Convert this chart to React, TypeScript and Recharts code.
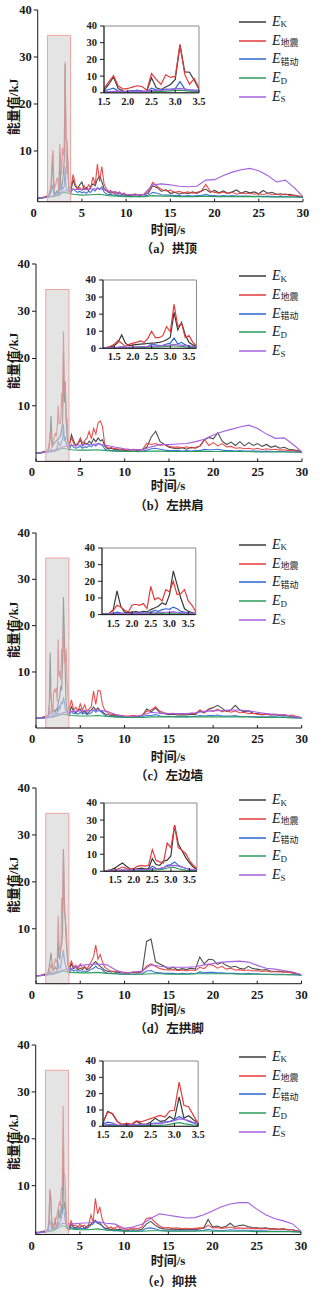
import React from "react";
import { LineChart, Line, XAxis, YAxis, ReferenceArea } from "recharts";

// shared time grids (s)
const TIME_MAIN = [0, 0.5, 1, 4, 4.25, 4.5, 4.75, 5, 5.25, 5.5, 5.75, 6, 6.25, 6.5, 6.75, 7, 7.25, 7.5, 7.75, 8, 8.25, 8.5, 8.75, 9, 9.25, 9.5, 9.75, 10, 10.5, 11, 11.5, 12, 12.5, 13, 13.5, 14, 14.5, 15, 15.5, 16, 16.5, 17, 17.5, 18, 18.5, 19, 19.5, 20, 20.5, 21, 21.5, 22, 22.5, 23, 23.5, 24, 24.5, 25, 25.5, 26, 26.5, 27, 27.5, 28, 28.5, 29, 29.5, 30];
const TIME_INSET = [1.2, 1.3, 1.4, 1.5, 1.6, 1.7, 1.8, 1.9, 2.0, 2.1, 2.2, 2.3, 2.4, 2.5, 2.6, 2.7, 2.8, 2.9, 3.0, 3.1, 3.2, 3.3, 3.4, 3.5, 3.6, 3.7];
const TIME_SMOOTH = [0, 1, 2, 3, 4, 5, 6, 7, 8, 9, 10, 11, 12, 13, 14, 15, 16, 17, 18, 19, 20, 21, 22, 23, 24, 25, 26, 27, 28, 29, 30];

const X_TICKS = [0, 5, 10, 15, 20, 25, 30];
const Y_TICKS = [10, 20, 30, 40];
const INSET_X_TICKS = [1.5, 2.0, 2.5, 3.0, 3.5];
const INSET_Y_TICKS = [0, 10, 20, 30, 40];
const SHADE_X = [1.1, 3.72];
const SHADE_TOP = 34.6;

// (a) 拱顶
const A_EK = [0, 0, 0.2, 3.8, 2.5, 2.0, 2.8, 3.4, 1.8, 2.2, 1.6, 2.4, 3.0, 2.6, 4.0, 4.6, 3.5, 2.0, 1.6, 1.2, 1.0, 1.3, 0.9, 0.8, 1.1, 0.7, 0.9, 0.6, 0.5, 0.8, 0.6, 0.7, 1.0, 2.6, 2.2, 1.4, 1.8, 1.0, 1.2, 0.8, 1.1, 0.9, 1.3, 1.0, 1.5, 1.9, 1.2, 1.6, 1.1, 1.5, 1.0, 1.3, 1.7, 1.0, 1.4, 1.1, 1.3, 0.9, 1.6, 1.0, 1.2, 0.8, 0.9, 0.7, 0.8, 0.5, 0.4, 0.2];
const A_EQ = [0, 0.1, 0.4, 5.0, 3.0, 1.8, 2.2, 1.6, 2.6, 1.8, 2.8, 2.2, 4.5, 2.8, 7.2, 3.5, 6.7, 3.0, 2.0, 1.4, 1.6, 1.0, 1.4, 1.1, 1.3, 0.8, 1.1, 0.7, 0.6, 0.9, 0.5, 0.8, 1.4, 3.3, 2.5, 1.8, 1.5, 1.7, 1.2, 1.4, 1.1, 1.3, 1.0, 1.2, 1.4, 2.9, 1.5, 1.2, 1.0, 1.3, 0.9, 1.2, 0.8, 1.1, 0.9, 1.0, 0.8, 0.9, 0.7, 1.0, 0.7, 0.8, 0.6, 0.9, 0.5, 0.6, 0.4, 0.2];
const A_EC = [0, 0, 0.2, 2.0, 1.5, 1.2, 1.4, 1.1, 1.3, 1.0, 1.4, 1.2, 1.8, 1.5, 2.2, 1.8, 2.4, 1.3, 0.9, 0.7, 0.8, 0.6, 0.7, 0.5, 0.6, 0.4, 0.5, 0.4, 0.3, 0.4, 0.3, 0.4, 0.6, 1.2, 1.0, 0.7, 0.6, 0.6, 0.5, 0.5, 0.4, 0.5, 0.4, 0.5, 0.5, 0.8, 0.5, 0.5, 0.4, 0.5, 0.4, 0.5, 0.4, 0.4, 0.4, 0.4, 0.3, 0.4, 0.3, 0.4, 0.3, 0.3, 0.3, 0.3, 0.2, 0.2, 0.2, 0.1];
const A_ED = [0, 0.1, 0.4, 1.2, 0.8, 0.6, 0.7, 0.8, 0.5, 0.4, 0.3, 0.3, 0.3, 0.5, 0.4, 0.4, 0.3, 0.3, 0.3, 0.4, 0.3, 0.3, 0.3, 0.3, 0.3, 0.3, 0.2, 0.2, 0.2, 0.2, 0.1];
const A_ES = [0, 0.1, 0.6, 1.5, 1.8, 1.8, 1.9, 2.0, 1.5, 1.1, 0.8, 0.6, 0.8, 2.8, 3.0, 2.8, 2.5, 2.4, 2.5, 3.8, 3.9, 4.8, 5.5, 6.0, 6.3, 5.8, 4.8, 3.4, 3.8, 2.2, 0.3];
const A_IN_EK = [0.3, 0.5, 1.0, 1.5, 5.0, 9.5, 2.5, 1.0, 0.8, 1.2, 1.5, 1.0, 0.8, 9.0, 3.0, 2.0, 3.5, 5.0, 8.0, 28.5, 12.5, 12.3, 7.5, 2.2, 1.5, 1.0];
const A_IN_EQ = [0.5, 1.0, 1.8, 2.8, 6.5, 10.2, 4.0, 2.2, 2.6, 3.4, 4.2, 3.8, 1.5, 11.5, 8.0, 5.0, 10.8, 9.2, 9.8, 29.0, 11.0, 5.0, 8.5, 2.8, 2.0, 1.5];
const A_IN_EC = [0.3, 0.5, 0.8, 1.2, 2.0, 2.8, 1.0, 0.5, 0.8, 1.2, 1.5, 1.0, 0.6, 2.8, 1.8, 1.5, 2.2, 2.0, 2.5, 6.7, 2.2, 1.8, 1.5, 1.6, 1.2, 1.0];
const A_IN_ED = [0.1, 0.2, 0.3, 0.4, 0.5, 0.6, 0.5, 0.4, 0.4, 0.5, 0.6, 0.5, 0.5, 0.8, 0.8, 0.9, 1.0, 1.2, 1.4, 1.6, 1.3, 1.0, 0.8, 0.6, 0.5, 0.4];
const A_IN_ES = [0.2, 0.3, 0.4, 0.5, 0.7, 0.9, 0.8, 0.7, 0.8, 0.9, 1.0, 0.9, 0.9, 1.3, 1.4, 1.5, 1.8, 2.1, 2.3, 2.6, 2.2, 1.8, 1.5, 1.2, 1.0, 0.9];

// (b) 左拱肩
const B_EK = [0, 0, 0.2, 3.9, 2.5, 1.6, 2.0, 2.8, 1.5, 2.2, 1.8, 2.5, 2.0, 3.0, 2.4, 3.2, 2.6, 2.8, 1.5, 1.0, 0.9, 1.0, 0.8, 0.7, 0.8, 0.6, 0.7, 0.5, 0.6, 0.7, 0.5, 0.8, 1.2, 3.4, 4.6, 2.4, 1.8, 1.2, 1.0, 0.9, 1.1, 0.8, 1.2, 1.0, 1.5, 2.8, 3.3, 3.0, 4.3, 2.5, 1.8, 2.3, 1.6, 2.4, 1.5, 2.2, 1.6, 2.0, 1.4, 1.8, 1.2, 1.5, 1.0, 1.2, 0.8, 0.7, 0.5, 0.2];
const B_EQ = [0, 0.1, 0.4, 3.2, 2.0, 1.4, 2.2, 3.2, 2.1, 2.6, 3.2, 4.6, 3.0, 5.2, 4.0, 6.4, 6.8, 5.6, 1.8, 1.3, 1.0, 1.2, 0.9, 1.0, 0.8, 0.9, 0.7, 0.7, 0.6, 0.8, 0.6, 0.7, 2.1, 1.8, 2.0, 1.6, 1.8, 1.4, 1.2, 1.3, 1.1, 1.3, 1.0, 1.2, 1.4, 2.8, 1.6, 2.2, 1.5, 2.0, 1.3, 1.4, 1.0, 1.1, 0.9, 1.0, 0.8, 1.0, 0.7, 0.9, 0.7, 0.8, 0.6, 0.7, 0.5, 0.5, 0.4, 0.2];
const B_EC = [0, 0, 0.2, 1.8, 1.2, 1.0, 1.2, 1.4, 1.0, 1.3, 1.2, 1.6, 1.3, 1.8, 1.5, 2.1, 1.9, 1.6, 0.9, 0.6, 0.6, 0.5, 0.5, 0.4, 0.5, 0.4, 0.4, 0.3, 0.3, 0.4, 0.3, 0.4, 0.6, 0.9, 1.0, 0.8, 0.6, 0.5, 0.5, 0.5, 0.4, 0.5, 0.4, 0.5, 0.5, 0.8, 0.7, 0.7, 0.8, 0.6, 0.5, 0.5, 0.4, 0.5, 0.4, 0.4, 0.4, 0.4, 0.3, 0.4, 0.3, 0.3, 0.3, 0.3, 0.2, 0.2, 0.2, 0.1];
const B_ED = [0, 0.1, 0.3, 1.0, 0.7, 0.6, 0.6, 0.7, 0.5, 0.4, 0.3, 0.3, 0.3, 0.4, 0.4, 0.3, 0.3, 0.3, 0.3, 0.4, 0.3, 0.3, 0.3, 0.3, 0.3, 0.2, 0.2, 0.2, 0.2, 0.2, 0.1];
const B_ES = [0, 0.1, 0.5, 1.3, 1.6, 1.7, 1.8, 1.9, 1.6, 1.2, 0.9, 0.7, 0.7, 1.3, 1.8, 1.8, 1.9, 2.0, 2.4, 2.9, 3.8, 4.5, 5.0, 5.5, 5.9, 5.2, 4.0, 3.1, 3.2, 1.8, 0.2];
const B_IN_EK = [0.1, 0.3, 0.8, 1.5, 3.5, 7.8, 3.0, 1.5, 2.0, 2.2, 2.4, 2.6, 2.8, 3.0, 3.2, 3.5, 4.0, 5.0, 6.5, 21.0, 10.7, 15.2, 7.8, 3.5, 2.0, 1.0];
const B_IN_EQ = [0.2, 0.5, 1.2, 2.3, 4.5, 3.0, 1.0, 2.3, 3.0, 3.5, 4.3, 3.5, 5.8, 10.0, 6.2, 6.2, 7.4, 12.7, 9.7, 25.7, 12.7, 14.6, 6.2, 7.4, 3.5, 1.5];
const B_IN_EC = [0.1, 0.2, 0.3, 0.4, 0.6, 0.8, 0.5, 0.4, 0.5, 0.6, 0.8, 0.8, 1.2, 2.5, 2.0, 1.6, 1.8, 2.5, 3.0, 6.0, 2.5, 3.5, 2.0, 1.5, 1.0, 0.6];
const B_IN_ED = [0.1, 0.1, 0.2, 0.2, 0.3, 0.4, 0.3, 0.3, 0.4, 0.4, 0.5, 0.5, 0.6, 0.7, 0.8, 0.8, 0.9, 1.1, 1.3, 1.5, 1.2, 1.1, 0.8, 0.6, 0.5, 0.4];
const B_IN_ES = [0.1, 0.2, 0.3, 0.4, 0.5, 0.8, 0.7, 0.6, 0.7, 0.8, 0.9, 1.0, 1.1, 1.3, 1.3, 1.4, 1.6, 1.8, 2.0, 2.3, 2.0, 1.9, 1.5, 1.2, 1.0, 0.8];

// (c) 左边墙
const C_EK = [0, 0, 0.2, 2.5, 1.5, 1.2, 1.8, 2.0, 1.2, 1.6, 1.0, 1.4, 1.8, 2.4, 1.8, 2.2, 1.6, 1.4, 1.0, 0.8, 0.7, 0.6, 0.7, 0.5, 0.6, 0.4, 0.5, 0.4, 0.4, 0.5, 0.4, 0.6, 2.0, 1.4, 2.2, 1.2, 1.0, 0.8, 0.9, 0.7, 0.8, 0.7, 0.9, 0.8, 1.6, 1.2, 2.0, 2.3, 2.8, 2.2, 1.5, 1.8, 2.8, 1.8, 1.4, 1.6, 1.1, 1.0, 0.8, 0.9, 0.7, 0.8, 0.6, 0.7, 0.5, 0.4, 0.3, 0.1];
const C_EQ = [0, 0.1, 0.4, 4.0, 1.8, 2.4, 1.6, 3.1, 1.8, 2.9, 1.5, 2.0, 2.6, 5.9, 3.0, 6.0, 5.9, 3.0, 1.8, 1.4, 1.0, 0.9, 0.8, 0.8, 0.7, 0.6, 0.6, 0.5, 0.5, 0.6, 0.5, 0.7, 1.5, 1.8, 2.5, 1.5, 1.2, 1.0, 1.1, 0.9, 1.0, 0.9, 1.1, 1.0, 1.8, 1.3, 1.9, 1.5, 2.0, 1.4, 1.7, 1.3, 1.6, 1.2, 1.3, 1.0, 1.1, 0.9, 0.8, 0.9, 0.8, 0.9, 0.7, 0.8, 0.6, 0.7, 0.3, 0.1];
const C_EC = [0, 0, 0.2, 1.5, 1.0, 1.1, 0.9, 1.3, 0.9, 1.2, 0.8, 1.0, 1.2, 1.8, 1.3, 1.7, 1.6, 1.1, 0.7, 0.5, 0.4, 0.4, 0.4, 0.3, 0.3, 0.3, 0.3, 0.2, 0.2, 0.3, 0.2, 0.3, 0.6, 0.6, 0.8, 0.5, 0.4, 0.4, 0.4, 0.3, 0.4, 0.3, 0.4, 0.4, 0.6, 0.5, 0.6, 0.6, 0.7, 0.5, 0.5, 0.5, 0.6, 0.4, 0.4, 0.4, 0.3, 0.3, 0.3, 0.3, 0.3, 0.3, 0.2, 0.3, 0.2, 0.2, 0.1, 0.1];
const C_ED = [0, 0.1, 0.3, 0.9, 0.6, 0.5, 0.5, 0.6, 0.4, 0.3, 0.2, 0.2, 0.2, 0.3, 0.3, 0.3, 0.3, 0.3, 0.3, 0.3, 0.3, 0.3, 0.3, 0.3, 0.3, 0.2, 0.2, 0.2, 0.2, 0.1, 0.1];
const C_ES = [0, 0.1, 0.4, 1.2, 1.5, 1.6, 1.7, 1.8, 1.5, 0.8, 0.4, 0.4, 0.6, 1.3, 1.1, 1.0, 1.0, 1.0, 1.2, 1.5, 1.6, 1.7, 1.8, 1.8, 1.6, 1.3, 1.0, 0.8, 0.7, 0.4, 0.1];
const C_IN_EK = [0.2, 0.4, 0.8, 3.0, 14.2, 5.0, 1.5, 1.2, 1.5, 1.8, 1.4, 2.0, 1.6, 3.0, 4.0, 5.0, 7.0, 6.0, 12.0, 26.2, 18.0, 10.0, 3.5, 2.0, 1.2, 0.8];
const C_IN_EQ = [0.3, 0.5, 0.8, 2.6, 5.6, 4.6, 2.6, 1.6, 5.6, 6.2, 5.6, 6.6, 3.6, 17.0, 9.0, 10.2, 8.2, 15.0, 13.6, 20.0, 12.0, 12.6, 15.0, 8.2, 5.6, 1.6];
const C_IN_EC = [0.1, 0.2, 0.4, 0.8, 1.5, 1.0, 0.6, 0.5, 0.8, 1.0, 0.9, 1.1, 0.9, 1.5, 2.5, 2.0, 3.0, 3.5, 3.2, 4.5, 3.5, 2.0, 1.5, 1.0, 0.8, 0.5];
const C_IN_ED = [0.1, 0.1, 0.2, 0.2, 0.3, 0.3, 0.3, 0.3, 0.3, 0.4, 0.4, 0.4, 0.4, 0.5, 0.6, 0.6, 0.7, 0.8, 0.9, 1.0, 0.8, 0.7, 0.5, 0.4, 0.3, 0.3];
const C_IN_ES = [0.1, 0.2, 0.3, 0.4, 0.6, 0.6, 0.5, 0.5, 0.6, 0.7, 0.7, 0.8, 0.8, 1.0, 1.1, 1.2, 1.3, 1.4, 1.5, 1.6, 1.4, 1.2, 1.0, 0.9, 0.7, 0.6];

// (d) 左拱脚
const D_EK = [0, 0, 0.2, 2.5, 1.5, 1.8, 1.2, 1.6, 1.3, 1.8, 1.2, 1.5, 2.0, 2.6, 3.0, 2.4, 2.0, 1.6, 1.2, 1.0, 0.9, 0.8, 0.9, 0.7, 0.8, 0.6, 0.7, 0.5, 0.6, 0.7, 0.6, 0.9, 7.3, 7.8, 3.0, 2.5, 2.0, 1.4, 1.8, 1.2, 1.5, 1.3, 1.6, 1.4, 4.0, 2.5, 3.5, 3.4, 2.4, 2.8, 2.2, 1.8, 2.0, 1.6, 1.4, 2.0, 1.5, 1.4, 1.2, 1.3, 1.0, 0.9, 1.0, 0.8, 0.9, 0.6, 0.4, 0.1];
const D_EQ = [0, 0.1, 0.4, 3.1, 1.8, 2.2, 1.5, 2.5, 1.6, 2.0, 1.4, 2.2, 3.0, 4.0, 6.5, 3.5, 4.5, 3.0, 1.8, 1.5, 1.1, 1.0, 0.9, 1.0, 0.8, 0.9, 0.7, 0.7, 0.6, 0.8, 0.7, 0.9, 2.0, 2.5, 2.0, 1.5, 1.3, 1.2, 1.3, 1.1, 1.2, 1.0, 1.2, 1.1, 1.8, 1.5, 2.4, 2.2, 1.6, 2.0, 1.4, 1.6, 1.2, 1.3, 1.1, 1.2, 1.0, 1.1, 0.9, 1.0, 0.8, 0.9, 0.8, 0.8, 0.7, 0.6, 0.4, 0.2];
const D_EC = [0, 0, 0.2, 1.4, 1.0, 1.2, 0.9, 1.1, 0.9, 1.0, 0.8, 1.1, 1.4, 1.6, 2.0, 1.6, 1.5, 1.2, 0.8, 0.6, 0.5, 0.5, 0.4, 0.4, 0.4, 0.3, 0.3, 0.3, 0.3, 0.3, 0.3, 0.4, 1.0, 1.1, 0.7, 0.6, 0.5, 0.5, 0.5, 0.4, 0.5, 0.4, 0.5, 0.4, 0.8, 0.6, 0.7, 0.7, 0.6, 0.6, 0.5, 0.5, 0.5, 0.4, 0.4, 0.5, 0.4, 0.4, 0.3, 0.3, 0.3, 0.3, 0.3, 0.3, 0.2, 0.2, 0.2, 0.1];
const D_ED = [0, 0.1, 0.3, 1.0, 0.7, 0.6, 0.6, 0.7, 0.5, 0.4, 0.3, 0.3, 0.3, 0.4, 0.4, 0.3, 0.3, 0.3, 0.4, 0.4, 0.4, 0.4, 0.4, 0.3, 0.3, 0.3, 0.3, 0.2, 0.2, 0.2, 0.1];
const D_ES = [0, 0.1, 0.5, 1.2, 1.5, 2.2, 2.4, 2.5, 2.3, 1.2, 0.5, 0.8, 1.0, 2.3, 2.0, 1.8, 1.8, 1.8, 1.9, 2.3, 2.6, 2.9, 3.0, 3.1, 2.9, 2.2, 1.6, 1.4, 1.1, 0.8, 0.2];
const D_IN_EK = [0.2, 0.4, 1.0, 2.0, 3.5, 4.9, 3.0, 1.5, 1.2, 1.5, 1.8, 1.4, 1.6, 7.5, 4.0, 3.5, 6.0, 6.5, 9.0, 27.0, 16.0, 12.0, 8.0, 5.0, 2.5, 1.0];
const D_IN_EQ = [0.3, 0.5, 0.5, 0.6, 1.6, 2.5, 1.6, 1.0, 1.6, 2.9, 3.5, 3.0, 3.5, 12.7, 6.4, 5.5, 4.9, 16.6, 13.8, 26.9, 13.8, 12.3, 10.3, 6.4, 3.5, 1.6];
const D_IN_EC = [0.1, 0.2, 0.3, 0.4, 0.6, 0.8, 0.6, 0.4, 0.5, 0.7, 0.8, 0.7, 0.9, 3.0, 1.8, 1.5, 2.0, 3.5, 4.0, 5.5, 3.5, 2.5, 1.8, 1.2, 0.8, 0.5];
const D_IN_ED = [0.1, 0.1, 0.2, 0.2, 0.3, 0.3, 0.3, 0.3, 0.3, 0.4, 0.4, 0.4, 0.5, 0.7, 0.8, 0.9, 1.2, 1.8, 2.5, 2.2, 1.5, 1.0, 0.7, 0.5, 0.4, 0.3];
const D_IN_ES = [0.1, 0.2, 0.3, 0.4, 0.5, 0.6, 0.6, 0.6, 0.7, 0.8, 0.9, 0.9, 1.0, 1.5, 1.6, 1.8, 2.2, 2.8, 3.3, 3.5, 3.0, 2.4, 1.8, 1.3, 1.0, 0.8];

// (e) 抑拱
const E_EK = [0, 0, 0.2, 1.8, 1.2, 1.0, 1.3, 1.1, 1.4, 1.0, 1.2, 1.5, 1.8, 2.2, 2.6, 2.0, 1.8, 1.5, 1.0, 0.9, 0.8, 0.7, 0.8, 0.7, 0.6, 0.7, 0.6, 0.5, 0.5, 0.6, 0.5, 0.7, 1.8, 2.4, 1.6, 1.0, 0.8, 0.7, 0.8, 0.6, 0.7, 0.6, 0.7, 0.6, 0.8, 1.0, 2.8, 1.2, 1.4, 1.1, 1.3, 2.0, 1.2, 1.5, 1.6, 1.3, 1.1, 1.0, 0.9, 1.0, 0.8, 0.8, 0.7, 0.8, 0.6, 0.6, 0.4, 0.2];
const E_EQ = [0, 0.1, 0.4, 2.5, 1.4, 1.6, 1.2, 1.8, 1.3, 1.6, 1.1, 1.8, 3.8, 2.2, 7.3, 4.0, 5.5, 3.0, 1.8, 1.4, 1.0, 1.2, 0.9, 1.0, 1.4, 0.9, 1.1, 0.8, 0.7, 1.0, 0.8, 1.2, 3.0, 3.2, 2.2, 1.4, 1.0, 1.1, 0.9, 1.0, 0.8, 0.9, 0.8, 0.9, 1.0, 0.9, 1.6, 1.0, 1.1, 0.9, 1.0, 1.2, 0.9, 1.0, 0.9, 1.0, 0.8, 0.9, 0.8, 0.9, 0.7, 0.8, 0.7, 0.8, 0.6, 0.6, 0.4, 0.2];
const E_EC = [0, 0, 0.2, 1.2, 0.8, 0.9, 0.8, 1.0, 0.8, 0.9, 0.8, 1.2, 1.6, 1.8, 2.5, 2.0, 2.2, 1.5, 0.9, 0.6, 0.5, 0.5, 0.4, 0.4, 0.5, 0.4, 0.4, 0.3, 0.3, 0.4, 0.3, 0.4, 0.9, 1.0, 0.8, 0.5, 0.4, 0.4, 0.4, 0.4, 0.4, 0.4, 0.4, 0.4, 0.4, 0.5, 0.7, 0.5, 0.5, 0.4, 0.5, 0.6, 0.5, 0.5, 0.5, 0.5, 0.4, 0.4, 0.4, 0.4, 0.3, 0.3, 0.3, 0.3, 0.3, 0.2, 0.2, 0.1];
const E_ED = [0, 0.1, 0.4, 1.5, 0.8, 0.6, 0.6, 0.8, 0.5, 0.4, 0.3, 0.3, 0.3, 0.4, 0.4, 0.3, 0.3, 0.3, 0.3, 0.4, 0.3, 0.3, 0.3, 0.3, 0.3, 0.2, 0.2, 0.2, 0.2, 0.2, 0.1];
const E_ES = [0, 0.1, 0.8, 2.0, 1.8, 2.0, 2.1, 2.3, 2.0, 1.8, 0.9, 1.2, 1.8, 3.0, 4.0, 3.7, 3.4, 3.1, 3.2, 3.8, 4.6, 5.5, 6.1, 6.4, 6.4, 5.0, 3.8, 3.0, 2.5, 1.9, 0.3];
const E_IN_EK = [0.2, 0.4, 0.8, 2.0, 9.2, 7.5, 3.0, 1.0, 1.0, 1.0, 3.0, 1.5, 1.2, 2.5, 5.0, 3.0, 3.5, 6.0, 4.0, 18.0, 5.0, 6.5, 4.0, 2.0, 1.0, 0.5];
const E_IN_EQ = [0.3, 0.5, 1.0, 2.7, 8.8, 7.8, 2.7, 1.2, 2.0, 1.2, 3.3, 2.7, 3.7, 4.7, 5.7, 6.7, 5.7, 9.4, 9.8, 27.0, 12.9, 11.8, 6.7, 1.6, 1.0, 0.6];
const E_IN_EC = [0.1, 0.3, 0.6, 1.5, 2.5, 2.0, 0.8, 0.5, 0.6, 0.7, 1.0, 0.8, 0.9, 1.5, 2.0, 2.0, 2.5, 3.0, 4.0, 6.0, 4.5, 3.0, 2.0, 1.0, 0.7, 0.4];
const E_IN_ED = [0.1, 0.1, 0.2, 0.3, 0.5, 0.5, 0.4, 0.3, 0.3, 0.3, 0.4, 0.4, 0.4, 0.5, 0.6, 0.7, 0.8, 1.2, 1.8, 2.2, 1.6, 1.2, 0.8, 0.5, 0.4, 0.3];
const E_IN_ES = [0.1, 0.2, 0.4, 0.6, 1.2, 1.2, 0.9, 0.8, 0.8, 0.9, 1.0, 1.0, 1.1, 1.4, 1.6, 1.8, 2.2, 2.8, 3.5, 4.5, 4.2, 3.5, 2.5, 1.8, 1.2, 1.0];

const COLORS: Record<string, string> = {
  ek: "#3a3a3a",
  eq: "#e5393b",
  ec: "#2f66d6",
  ed: "#2a9d5c",
  es: "#a55fe0",
};

const LEGEND = [
  { key: "ek", sub: "K" },
  { key: "eq", sub: "地震" },
  { key: "ec", sub: "错动" },
  { key: "ed", sub: "D" },
  { key: "es", sub: "S" },
];

const INK = "#1a1a1a";
const SERIF = '"Liberation Serif", "Times New Roman", serif';
const CJK = '"Liberation Serif", "Noto Sans CJK SC", serif';

const PANELS = [
  {
    caption: "（a）拱顶",
    layout: { yTop: 10, yZero: 198, axisY: 201.7, left: 37.7, right: 303, xTitle: 228, cap: 247 },
    inset: { left: 104.3, right: 199.3, top: 25.7, bottom: 92.5, domain: [1.5, 3.5], zeroUp: 3 },
    main: { ek: A_EK, eq: A_EQ, ec: A_EC }, smooth: { ed: A_ED, es: A_ES },
    zoom: { ek: A_IN_EK, eq: A_IN_EQ, ec: A_IN_EC, ed: A_IN_ED, es: A_IN_ES },
  },
  {
    caption: "（b）左拱肩",
    layout: { yTop: 264.3, yZero: 453.3, axisY: 461.7, left: 36, right: 302, xTitle: 484, cap: 504 },
    inset: { left: 103, right: 196.5, top: 280, bottom: 348.3, domain: [1.2, 3.7], zeroUp: 0 },
    main: { ek: B_EK, eq: B_EQ, ec: B_EC }, smooth: { ed: B_ED, es: B_ES },
    zoom: { ek: B_IN_EK, eq: B_IN_EQ, ec: B_IN_EC, ed: B_IN_ED, es: B_IN_ES },
  },
  {
    caption: "（c）左边墙",
    layout: { yTop: 533, yZero: 718.3, axisY: 728, left: 36, right: 301.7, xTitle: 755, cap: 774 },
    inset: { left: 102, right: 195.8, top: 547.7, bottom: 614.3, domain: [1.2, 3.7], zeroUp: 0 },
    main: { ek: C_EK, eq: C_EQ, ec: C_EC }, smooth: { ed: C_ED, es: C_ES },
    zoom: { ek: C_IN_EK, eq: C_IN_EQ, ec: C_IN_EC, ed: C_IN_ED, es: C_IN_ES },
  },
  {
    caption: "（d）左拱脚",
    layout: { yTop: 788.3, yZero: 976, axisY: 984, left: 36, right: 301.5, xTitle: 1008, cap: 1027 },
    inset: { left: 103.9, right: 196.8, top: 802.7, bottom: 871, domain: [1.2, 3.7], zeroUp: 0 },
    main: { ek: D_EK, eq: D_EQ, ec: D_EC }, smooth: { ed: D_ED, es: D_ES },
    zoom: { ek: D_IN_EK, eq: D_IN_EQ, ec: D_IN_EC, ed: D_IN_ED, es: D_IN_ES },
  },
  {
    caption: "（e）抑拱",
    layout: { yTop: 1045, yZero: 1232.6, axisY: 1234.5, left: 35.7, right: 301, xTitle: 1259, cap: 1280 },
    inset: { left: 102.7, right: 197.9, top: 1060.7, bottom: 1126, domain: [1.5, 3.5], zeroUp: 3 },
    main: { ek: E_EK, eq: E_EQ, ec: E_EC }, smooth: { ed: E_ED, es: E_ES },
    zoom: { ek: E_IN_EK, eq: E_IN_EQ, ec: E_IN_EC, ed: E_IN_ED, es: E_IN_ES },
  },
];

function xTick(fontSize: number, dy: number, decimals: number, zeroDx: number) {
  return (p: any) => {
    const v = p.payload.value as number;
    return (
      <g>
        <line x1={p.x} x2={p.x} y1={p.y} y2={p.y - 3} stroke={INK} strokeWidth={1} />
        <text
          x={p.x + (v === 0 ? zeroDx : 0)}
          y={p.y + dy}
          textAnchor="middle"
          dominantBaseline="central"
          fontSize={fontSize}
          fontFamily={SERIF}
          fontWeight="bold"
          fill={INK}
        >
          {decimals ? v.toFixed(decimals) : v}
        </text>
      </g>
    );
  };
}

function yTick(fontSize: number, zeroUp: number) {
  return (p: any) => {
    const v = p.payload.value as number;
    return (
      <text
        x={p.x}
        y={p.y - (v === 0 ? zeroUp : 0)}
        textAnchor="end"
        dominantBaseline="central"
        fontSize={fontSize}
        fontFamily={SERIF}
        fontWeight="bold"
        fill={INK}
      >
        {v}
      </text>
    );
  };
}

function Panel({ panel }: { panel: (typeof PANELS)[number] }) {
  const { layout, inset, main, smooth, zoom } = panel;
  const ppu = (layout.yZero - layout.yTop) / 40;
  const yMin = -(layout.axisY - layout.yZero) / ppu;
  const PAD = 10;
  const XH = 24;

  const mainRows = TIME_MAIN.map((t, i) => ({ t, ek: main.ek[i], eq: main.eq[i], ec: main.ec[i] }))
    .concat(TIME_INSET.map((t, i) => ({ t, ek: zoom.ek[i], eq: zoom.eq[i], ec: zoom.ec[i] })))
    .sort((a, b) => a.t - b.t);
  const smoothRows = TIME_SMOOTH.map((t, i) => ({ t, ed: smooth.ed[i], es: smooth.es[i] }));
  const insetRows = TIME_INSET.map((t, i) => ({
    t, ek: zoom.ek[i], eq: zoom.eq[i], ec: zoom.ec[i], ed: zoom.ed[i], es: zoom.es[i],
  }));

  const IPL = 32;
  const IPT = 8;
  const IPR = 12;
  const IXH = 18;

  return (
    <>
      <div style={{ position: "absolute", left: 0, top: layout.yTop - PAD }}>
        <LineChart
          width={328}
          height={layout.axisY - layout.yTop + PAD + XH}
          data={mainRows}
          margin={{ top: PAD, right: 328 - layout.right, left: 0, bottom: 0 }}
        >
          <XAxis
            type="number"
            dataKey="t"
            domain={[0, 30]}
            ticks={X_TICKS}
            allowDataOverflow
            height={XH}
            tickSize={0}
            tickMargin={0}
            tickLine={false}
            axisLine={{ stroke: INK }}
            tick={xTick(12.5, 11, 0, -4)}
            interval={0}
          />
          <YAxis
            type="number"
            domain={[yMin, 40]}
            ticks={Y_TICKS}
            allowDataOverflow
            width={layout.left}
            tickSize={4}
            tickMargin={2}
            axisLine={{ stroke: INK }}
            tickLine={{ stroke: INK }}
            tick={yTick(12.5, 0)}
            interval={0}
          />
          {(["ek", "eq", "ec"] as const).map((k) => (
            <Line key={k} dataKey={k} type="linear" stroke={COLORS[k]} strokeWidth={1.1} strokeOpacity={0.9} dot={false} isAnimationActive={false} />
          ))}
          {(["ed", "es"] as const).map((k) => (
            <Line key={k} data={smoothRows} dataKey={k} type="linear" stroke={COLORS[k]} strokeWidth={1.1} dot={false} isAnimationActive={false} />
          ))}
          <ReferenceArea
            x1={SHADE_X[0]}
            x2={SHADE_X[1]}
            y1={yMin}
            y2={SHADE_TOP}
            fill="#d2d2d2"
            fillOpacity={0.6}
            stroke="#f0a39d"
            strokeWidth={1}
            ifOverflow="visible"
            zIndex={450}
          />
        </LineChart>
      </div>

      <div style={{ position: "absolute", left: inset.left - IPL, top: inset.top - IPT }}>
        <LineChart
          width={inset.right - inset.left + IPL + IPR}
          height={inset.bottom - inset.top + IPT + IXH}
          data={insetRows}
          margin={{ top: IPT, right: IPR, left: 0, bottom: 0 }}
        >
          <XAxis
            type="number"
            dataKey="t"
            domain={inset.domain}
            ticks={INSET_X_TICKS}
            allowDataOverflow
            height={IXH}
            tickSize={0}
            tickMargin={0}
            tickLine={false}
            axisLine={{ stroke: INK }}
            tick={xTick(10.5, 8.5, 1, 0)}
            interval={0}
          />
          <YAxis
            type="number"
            domain={[0, 40]}
            ticks={INSET_Y_TICKS}
            allowDataOverflow
            width={IPL}
            tickSize={4}
            tickMargin={3}
            axisLine={{ stroke: INK }}
            tickLine={{ stroke: INK }}
            tick={yTick(10.5, inset.zeroUp)}
            interval={0}
          />
          <ReferenceArea
            x1={inset.domain[0]}
            x2={inset.domain[1]}
            y1={0}
            y2={40}
            fill="none"
            stroke="#8c8c8c"
            strokeWidth={1}
            ifOverflow="visible"
          />
          {(["ek", "eq", "ec", "ed", "es"] as const).map((k) => (
            <Line key={k} dataKey={k} type="linear" stroke={COLORS[k]} strokeWidth={1.2} dot={false} isAnimationActive={false} />
          ))}
        </LineChart>
      </div>

      <div style={{ position: "absolute", left: 239, top: layout.yTop + 11.8 - 7 }}>
        {LEGEND.map((l, i) => (
          <div
            key={l.key}
            style={{ position: "absolute", left: 0, top: i * 18.8, height: 14, display: "flex", alignItems: "center", whiteSpace: "nowrap" }}
          >
            <svg width={27} height={4} style={{ display: "block" }}>
              <line x1={0} x2={27} y1={2} y2={2} stroke={COLORS[l.key]} strokeWidth={1.5} />
            </svg>
            <span style={{ marginLeft: 6, fontFamily: SERIF, fontStyle: "italic", fontSize: 14, color: INK, lineHeight: "14px" }}>E</span>
            <span style={{ fontFamily: CJK, fontSize: 9, color: INK, position: "relative", top: 3, lineHeight: "9px" }}>{l.sub}</span>
          </div>
        ))}
      </div>

      <div
        style={{
          position: "absolute",
          left: 12,
          top: layout.yTop + 97,
          transform: "translate(-50%, -50%) rotate(-90deg)",
          fontFamily: CJK,
          fontWeight: "bold",
          fontSize: 13,
          color: INK,
          whiteSpace: "nowrap",
        }}
      >
        能量值/kJ
      </div>
      <div
        style={{
          position: "absolute",
          left: 168,
          top: layout.xTitle,
          transform: "translate(-50%, -50%)",
          fontFamily: CJK,
          fontWeight: "bold",
          fontSize: 13,
          color: INK,
          whiteSpace: "nowrap",
        }}
      >
        时间/s
      </div>
      <div
        style={{
          position: "absolute",
          left: 169,
          top: layout.cap,
          transform: "translate(-50%, -50%)",
          fontFamily: CJK,
          fontWeight: 600,
          fontSize: 12.5,
          color: INK,
          whiteSpace: "nowrap",
        }}
      >
        {panel.caption}
      </div>
    </>
  );
}

export default function App() {
  return (
    <div style={{ position: "absolute", left: 0, top: 0, width: 328, height: 1304, background: "#fff", overflow: "hidden" }}>
      {PANELS.map((p) => (
        <Panel key={p.caption} panel={p} />
      ))}
    </div>
  );
}
